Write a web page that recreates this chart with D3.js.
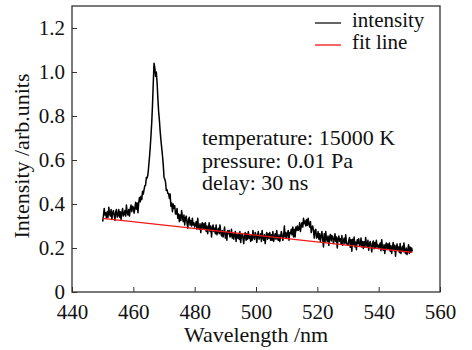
<!DOCTYPE html>
<html>
<head>
<meta charset="utf-8">
<script src="https://cdn.jsdelivr.net/npm/d3@7"></script>
<style>
  body { margin: 0; background: #fff; }
</style>
</head>
<body>
<svg id="chart" width="472" height="350"></svg>
<script>
// spectrum, 0.25 nm sampling
const wavelength = [
  450,450.25,450.5,450.75,451,451.25,451.5,451.75,452,452.25,452.5,452.75,453,453.25,453.5,453.75,454,454.25,454.5,454.75,
  455,455.25,455.5,455.75,456,456.25,456.5,456.75,457,457.25,457.5,457.75,458,458.25,458.5,458.75,459,459.25,459.5,459.75,
  460,460.25,460.5,460.75,461,461.25,461.5,461.75,462,462.25,462.5,462.75,463,463.25,463.5,463.75,464,464.25,464.5,464.75,
  465,465.25,465.5,465.75,466,466.25,466.5,466.75,467,467.25,467.5,467.75,468,468.25,468.5,468.75,469,469.25,469.5,469.75,
  470,470.25,470.5,470.75,471,471.25,471.5,471.75,472,472.25,472.5,472.75,473,473.25,473.5,473.75,474,474.25,474.5,474.75,
  475,475.25,475.5,475.75,476,476.25,476.5,476.75,477,477.25,477.5,477.75,478,478.25,478.5,478.75,479,479.25,479.5,479.75,
  480,480.25,480.5,480.75,481,481.25,481.5,481.75,482,482.25,482.5,482.75,483,483.25,483.5,483.75,484,484.25,484.5,484.75,
  485,485.25,485.5,485.75,486,486.25,486.5,486.75,487,487.25,487.5,487.75,488,488.25,488.5,488.75,489,489.25,489.5,489.75,
  490,490.25,490.5,490.75,491,491.25,491.5,491.75,492,492.25,492.5,492.75,493,493.25,493.5,493.75,494,494.25,494.5,494.75,
  495,495.25,495.5,495.75,496,496.25,496.5,496.75,497,497.25,497.5,497.75,498,498.25,498.5,498.75,499,499.25,499.5,499.75,
  500,500.25,500.5,500.75,501,501.25,501.5,501.75,502,502.25,502.5,502.75,503,503.25,503.5,503.75,504,504.25,504.5,504.75,
  505,505.25,505.5,505.75,506,506.25,506.5,506.75,507,507.25,507.5,507.75,508,508.25,508.5,508.75,509,509.25,509.5,509.75,
  510,510.25,510.5,510.75,511,511.25,511.5,511.75,512,512.25,512.5,512.75,513,513.25,513.5,513.75,514,514.25,514.5,514.75,
  515,515.25,515.5,515.75,516,516.25,516.5,516.75,517,517.25,517.5,517.75,518,518.25,518.5,518.75,519,519.25,519.5,519.75,
  520,520.25,520.5,520.75,521,521.25,521.5,521.75,522,522.25,522.5,522.75,523,523.25,523.5,523.75,524,524.25,524.5,524.75,
  525,525.25,525.5,525.75,526,526.25,526.5,526.75,527,527.25,527.5,527.75,528,528.25,528.5,528.75,529,529.25,529.5,529.75,
  530,530.25,530.5,530.75,531,531.25,531.5,531.75,532,532.25,532.5,532.75,533,533.25,533.5,533.75,534,534.25,534.5,534.75,
  535,535.25,535.5,535.75,536,536.25,536.5,536.75,537,537.25,537.5,537.75,538,538.25,538.5,538.75,539,539.25,539.5,539.75,
  540,540.25,540.5,540.75,541,541.25,541.5,541.75,542,542.25,542.5,542.75,543,543.25,543.5,543.75,544,544.25,544.5,544.75,
  545,545.25,545.5,545.75,546,546.25,546.5,546.75,547,547.25,547.5,547.75,548,548.25,548.5,548.75,549,549.25,549.5,549.75,
  550,550.25,550.5,550.75,551
];
const intensity = [
  0.32,0.345,0.38,0.35,0.36,0.335,0.365,0.34,0.385,0.355,0.345,0.375,0.33,0.36,0.37,0.35,0.325,0.365,0.375,0.34,
  0.35,0.375,0.34,0.365,0.33,0.36,0.38,0.345,0.355,0.37,0.345,0.395,0.36,0.35,0.375,0.345,0.38,0.395,0.365,0.39,
  0.385,0.358,0.38,0.408,0.376,0.405,0.36,0.405,0.43,0.41,0.435,0.42,0.458,0.445,0.465,0.483,0.485,0.52,0.518,0.533,
  0.57,0.61,0.655,0.71,0.77,0.85,0.95,1.04,1.02,0.98,1.0,0.95,0.88,0.82,0.78,0.73,0.69,0.655,0.62,0.58,
  0.522,0.513,0.50,0.462,0.465,0.448,0.448,0.425,0.445,0.39,0.405,0.365,0.40,0.38,0.392,0.355,0.355,0.38,0.335,0.355,
  0.32,0.35,0.325,0.37,0.34,0.32,0.35,0.305,0.335,0.345,0.315,0.29,0.33,0.34,0.305,0.325,0.30,0.335,0.305,0.315,
  0.295,0.305,0.32,0.285,0.335,0.295,0.285,0.31,0.27,0.305,0.315,0.285,0.31,0.29,0.315,0.275,0.30,0.265,0.295,0.315,
  0.275,0.30,0.25,0.29,0.305,0.275,0.29,0.265,0.305,0.26,0.275,0.29,0.265,0.305,0.27,0.255,0.28,0.25,0.27,0.295,
  0.245,0.27,0.235,0.28,0.265,0.28,0.25,0.255,0.285,0.245,0.265,0.24,0.26,0.275,0.23,0.26,0.245,0.265,0.24,0.275,
  0.225,0.255,0.265,0.245,0.22,0.26,0.27,0.235,0.265,0.24,0.275,0.245,0.255,0.23,0.26,0.235,0.28,0.25,0.24,0.27,
  0.26,0.225,0.255,0.275,0.24,0.25,0.265,0.23,0.28,0.245,0.235,0.26,0.22,0.255,0.27,0.24,0.265,0.245,0.27,0.235,
  0.26,0.235,0.275,0.23,0.25,0.265,0.24,0.28,0.245,0.235,0.26,0.23,0.25,0.275,0.26,0.235,0.255,0.30,0.25,0.27,
  0.245,0.265,0.28,0.235,0.27,0.265,0.285,0.26,0.295,0.25,0.285,0.25,0.295,0.28,0.30,0.28,0.285,0.315,0.275,0.30,
  0.315,0.295,0.335,0.31,0.323,0.30,0.33,0.303,0.335,0.31,0.295,0.32,0.27,0.295,0.30,0.275,0.245,0.28,0.285,0.245,
  0.25,0.275,0.24,0.265,0.23,0.255,0.275,0.24,0.205,0.265,0.225,0.275,0.24,0.23,0.255,0.212,0.247,0.262,0.232,0.257,
  0.25,0.22,0.24,0.265,0.23,0.25,0.20,0.24,0.255,0.23,0.242,0.217,0.257,0.212,0.232,0.245,0.22,0.26,0.225,0.215,
  0.213,0.233,0.248,0.203,0.238,0.185,0.24,0.215,0.25,0.205,0.227,0.192,0.237,0.222,0.242,0.21,0.215,0.245,0.205,0.23,
  0.198,0.228,0.203,0.248,0.218,0.205,0.235,0.19,0.22,0.23,0.207,0.182,0.222,0.232,0.197,0.225,0.20,0.235,0.205,0.215,
  0.198,0.208,0.223,0.188,0.238,0.20,0.19,0.215,0.175,0.21,0.223,0.193,0.218,0.198,0.223,0.185,0.21,0.175,0.205,0.225,
  0.188,0.213,0.163,0.203,0.218,0.19,0.205,0.18,0.22,0.175,0.193,0.208,0.183,0.223,0.188,0.175,0.20,0.17,0.19,0.215,
  0.175,0.205,0.18,0.20,0.185
];

// linear fit (straight line, two ends)
const fitWavelength = [450, 551];
const fitIntensity = [0.335, 0.18];

const xTicks = [440, 460, 480, 500, 520, 540, 560];
const yTicks = [0, 0.2, 0.4, 0.6, 0.8, 1.0, 1.2];
const yTickLabels = ["0", "0.2", "0.4", "0.6", "0.8", "1.0", "1.2"];

const legendNames = ["intensity", "fit line"];
const legendColors = ["#111", "#f01818"];
const notes = ["temperature: 15000 K", "pressure: 0.01 Pa", "delay: 30 ns"];

const FONT = "'Liberation Serif', 'DejaVu Serif', serif";

const margin = { left: 72, right: 32, top: 6, bottom: 58 };
const W = 472, H = 350;
const plotW = W - margin.left - margin.right;
const plotH = H - margin.top - margin.bottom;

const svg = d3.select("#chart");
const g = svg.append("g").attr("transform", `translate(${margin.left},${margin.top})`);

const x = d3.scaleLinear().domain([440, 560]).range([0, plotW]);
const y = d3.scaleLinear().domain([0, 1.3]).range([plotH, 0]);

// bottom axis, ticks pointing in
const xAxis = d3.axisBottom(x).tickValues(xTicks).tickSize(-5).tickPadding(12).tickFormat(d3.format("d"));
g.append("g").attr("transform", `translate(0,${plotH})`).call(xAxis)
  .attr("font-family", FONT)
  .call(s => s.select(".domain").remove())
  .call(s => s.selectAll("line").attr("stroke", "#333"))
  .call(s => s.selectAll("text").attr("font-size", 21).attr("fill", "#111").attr("dy", "0.71em"));

const yAxis = d3.axisLeft(y).tickValues(yTicks).tickSize(-5).tickPadding(7)
  .tickFormat((d, i) => yTickLabels[i]);
g.append("g").call(yAxis)
  .attr("font-family", FONT)
  .call(s => s.select(".domain").remove())
  .call(s => s.selectAll("line").attr("stroke", "#333"))
  .call(s => s.selectAll("text").attr("font-size", 21).attr("fill", "#111").attr("dy", "0.3em"));

// frame
g.append("rect").attr("width", plotW).attr("height", plotH)
  .attr("fill", "none").attr("stroke", "#333").attr("stroke-width", 1.3);

const line = d3.line().x(d => x(d[0])).y(d => y(d[1]));

g.append("path")
  .datum(d3.zip(wavelength, intensity))
  .attr("d", line)
  .attr("fill", "none")
  .attr("stroke", "#000")
  .attr("stroke-width", 1.5)
  .attr("stroke-linejoin", "round");

g.append("path")
  .datum(d3.zip(fitWavelength, fitIntensity))
  .attr("d", line)
  .attr("fill", "none")
  .attr("stroke", legendColors[1])
  .attr("stroke-width", 1.3);

// legend
const leg = g.append("g").attr("transform", "translate(243,17)");
legendNames.forEach((name, i) => {
  leg.append("line").attr("x1", 0).attr("x2", 26)
    .attr("y1", i * 22).attr("y2", i * 22)
    .attr("stroke", legendColors[i]).attr("stroke-width", 1.3);
  leg.append("text").attr("x", 37).attr("y", i * 22 + 4)
    .attr("font-family", FONT).attr("font-size", 21).attr("fill", "#111").text(name);
});

// annotation
g.selectAll("text.note").data(notes).enter().append("text")
  .attr("class", "note")
  .attr("x", 130)
  .attr("y", (d, i) => 139 + i * 22.5)
  .attr("font-family", FONT)
  .attr("font-size", 22)
  .attr("fill", "#111")
  .text(d => d);

// axis labels
svg.append("text")
  .attr("x", margin.left + plotW / 2).attr("y", 342)
  .attr("text-anchor", "middle").attr("font-family", FONT).attr("font-size", 22).attr("fill", "#111")
  .text("Wavelength /nm");

svg.append("text")
  .attr("transform", `translate(29,${margin.top + plotH / 2 + 7}) rotate(-90)`)
  .attr("text-anchor", "middle").attr("font-family", FONT).attr("font-size", 22).attr("fill", "#111")
  .text("Intensity /arb.units");
</script>
</body>
</html>
